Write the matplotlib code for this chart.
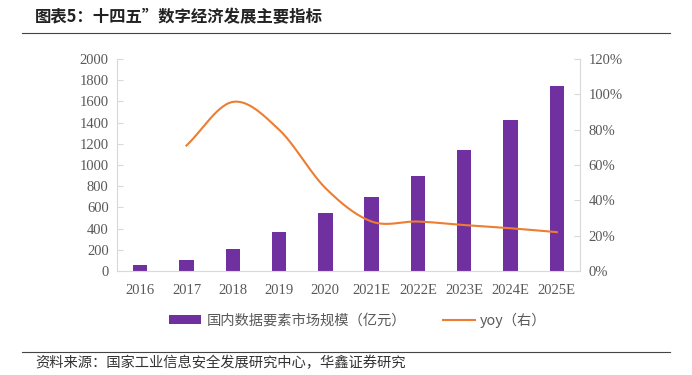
import numpy as np
import matplotlib.pyplot as plt

plt.rcParams['font.family'] = ['Noto Sans CJK SC', 'DejaVu Sans']

years = ['2016', '2017', '2018', '2019', '2020', '2021E', '2022E', '2023E', '2024E', '2025E']
market = [58, 100, 205, 370, 545, 700, 900, 1140, 1420, 1748]
yoy = [None, 0.71, 0.957, 0.80, 0.47, 0.28, 0.28, 0.26, 0.242, 0.22]

purple = '#7030A0'
orange = '#ED7D31'
grey = '#595959'
spine = '#d9d9d9'


def smooth(xs, ys, n=30):
    # catmull-rom, roughly what excel does for a smoothed line
    xs = np.asarray(xs, float)
    ys = np.asarray(ys, float)
    px = np.concatenate([[2 * xs[0] - xs[1]], xs, [2 * xs[-1] - xs[-2]]])
    py = np.concatenate([[2 * ys[0] - ys[1]], ys, [2 * ys[-1] - ys[-2]]])
    ox, oy = [], []
    t = np.linspace(0, 1, n)
    for i in range(1, len(px) - 2):
        for p, o in ((px, ox), (py, oy)):
            p0, p1, p2, p3 = p[i - 1], p[i], p[i + 1], p[i + 2]
            o.extend(0.5 * (2 * p1 + (-p0 + p2) * t + (2 * p0 - 5 * p1 + 4 * p2 - p3) * t ** 2
                            + (-p0 + 3 * p1 - 3 * p2 + p3) * t ** 3))
    return ox, oy


fig = plt.figure(figsize=(6.92, 3.75), dpi=100)
ax = fig.add_axes([117 / 692, 1 - 271 / 375, (580 - 117) / 692, (271 - 59) / 375])
ax2 = ax.twinx()

x = np.arange(len(years))
ax.bar(x, market, width=0.31, color=purple, label='国内数据要素市场规模（亿元）', zorder=2)
ax.set_xlim(-0.5, len(years) - 0.5)
ax.set_ylim(0, 2000)
ax.set_yticks(range(0, 2001, 200))
ax.set_xticks(x)
ax.set_xticklabels(years)

lx = [i for i, v in zip(x, yoy) if v is not None]
ly = [v for v in yoy if v is not None]
sx, sy = smooth(lx, ly)
ax2.plot(sx, sy, color=orange, lw=1.5, label='yoy（右）')
ax2.set_ylim(0, 1.2)
ax2.set_yticks(np.arange(0, 1.21, 0.2))
ax2.set_yticklabels(['%d%%' % round(v * 100) for v in np.arange(0, 1.21, 0.2)])

for a in (ax, ax2):
    for s in a.spines.values():
        s.set_visible(False)
    a.tick_params(colors=spine, labelcolor=grey, labelsize=10.5, length=4, direction='in')
    for lab in a.get_yticklabels() + a.get_xticklabels():
        lab.set_family('Liberation Serif')
ax.spines['left'].set_visible(True)
ax.spines['left'].set_color(spine)
ax.spines['bottom'].set_visible(True)
ax.spines['bottom'].set_color(spine)
ax2.spines['right'].set_visible(True)
ax2.spines['right'].set_color(spine)
ax.tick_params(axis='x', length=0, pad=9)
ax.tick_params(axis='y', pad=6)
ax2.tick_params(axis='y', pad=6)

h1, l1 = ax.get_legend_handles_labels()
h2, l2 = ax2.get_legend_handles_labels()
fig.legend(h1 + h2, l1 + l2, loc='center', bbox_to_anchor=(358 / 692, 1 - 320 / 375), ncol=2,
           frameon=False, fontsize=10.3, labelcolor=grey, handlelength=2.2, columnspacing=2.6,
           handleheight=0.5, handletextpad=0.4)

fig.text(35 / 692, 1 - 17 / 375, '图表5：十四五”数字经济发展主要指标', fontsize=11.8, fontweight='bold',
         va='center', color='#222222')
fig.add_artist(plt.Line2D([22 / 692, 670 / 692], [1 - 33 / 375, 1 - 33 / 375], color='#444444', lw=0.8))
fig.add_artist(plt.Line2D([22 / 692, 670 / 692], [1 - 352 / 375, 1 - 352 / 375], color='#444444', lw=0.8))
fig.text(35 / 692, 1 - 363 / 375, '资料来源：国家工业信息安全发展研究中心，华鑫证券研究', fontsize=10.3,
         va='center', color='#333333')

fig.savefig('out.png', dpi=100)
